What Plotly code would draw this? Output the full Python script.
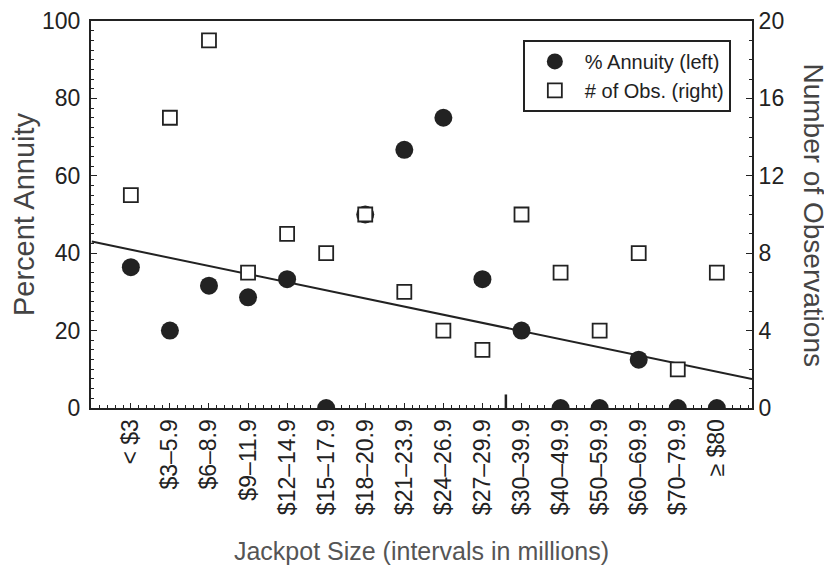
import plotly.graph_objects as go

categories = ["< $3", "$3–5.9", "$6–8.9", "$9–11.9", "$12–14.9", "$15–17.9",
              "$18–20.9", "$21–23.9", "$24–26.9", "$27–29.9", "$30–39.9",
              "$40–49.9", "$50–59.9", "$60–69.9", "$70–79.9", "≥ $80"]
pct_annuity = [36.4, 20.0, 31.6, 28.6, 33.3, 0.0, 50.0, 66.7, 75.0, 33.3,
               20.0, 0.0, 0.0, 12.5, 0.0, 0.0]
num_obs = [11, 15, 19, 7, 9, 8, 10, 6, 4, 3, 10, 7, 4, 8, 2, 7]
# fitted trend line (value at each end of x range)
trend_x = [-1.0, 15.9]
trend_y = [43.0, 7.5]
break_pos = 9.6

idx = list(range(len(categories)))
ink = "#222222"
font = "Liberation Sans, Arial, sans-serif"

fig = go.Figure()
fig.add_trace(go.Scatter(x=trend_x, y=trend_y, mode="lines",
                         line=dict(color=ink, width=2), showlegend=False,
                         hoverinfo="skip"))
fig.add_trace(go.Scatter(x=idx, y=pct_annuity, mode="markers",
                         name="% Annuity (left)",
                         marker=dict(symbol="circle", size=18, color=ink,
                                     line=dict(width=0)),
                         cliponaxis=True))
fig.add_trace(go.Scatter(x=idx, y=num_obs, mode="markers", yaxis="y2",
                         name="# of Obs. (right)",
                         marker=dict(symbol="square", size=14, color="white",
                                     line=dict(color=ink, width=1.8)),
                         cliponaxis=True))

fig.update_layout(
    width=832, height=567,
    margin=dict(l=83, r=88, t=13, b=167),
    paper_bgcolor="white", plot_bgcolor="white",
    font=dict(family=font, color=ink, size=20),
    xaxis=dict(range=[-1.02, 15.9], tickvals=idx, ticktext=categories,
               tickangle=-90, tickfont=dict(size=23, color=ink),
               automargin=False,
               showgrid=False, zeroline=False, showline=True, mirror=True,
               linecolor=ink, linewidth=2, ticks="inside", ticklen=5,
               tickcolor=ink,
               minor=dict(dtick=0.2, ticks="inside", ticklen=3,
                          tickcolor=ink, showgrid=False),
               title=dict(text="Jackpot Size (intervals in millions)",
                          font=dict(size=25, color="#555555"), standoff=28)),
    yaxis=dict(range=[0, 100], tickvals=[0, 20, 40, 60, 80, 100],
               automargin=False, ticklabelstandoff=4,
               showgrid=False, zeroline=False, showline=True,
               linecolor=ink, linewidth=2, ticks="inside", ticklen=6,
               tickcolor=ink, tickfont=dict(size=23, color=ink),
               minor=dict(dtick=2.5, ticks="inside", ticklen=3,
                          tickcolor=ink, showgrid=False),
               title=dict(text="Percent Annuity",
                          font=dict(size=29, color="#444444"), standoff=4)),
    yaxis2=dict(range=[0, 20], tickvals=[0, 4, 8, 12, 16, 20],
                automargin=False,
                overlaying="y", side="right", showgrid=False,
                zeroline=False, showline=True, linecolor=ink, linewidth=2,
                ticks="inside", ticklen=6, tickcolor=ink,
                tickfont=dict(size=23, color=ink),
                minor=dict(dtick=1, ticks="inside", ticklen=3,
                           tickcolor=ink, showgrid=False)),
    legend=dict(x=0.968, y=0.951, xanchor="right", yanchor="top",
                bgcolor="white", bordercolor=ink, borderwidth=2,
                font=dict(size=20, color=ink), tracegroupgap=0,
                itemsizing="trace", itemwidth=50),
    annotations=[dict(text="Number of Observations", textangle=90,
                      xref="paper", yref="paper", x=1.0, xshift=61, y=0.5,
                      xanchor="center", yanchor="middle", showarrow=False,
                      font=dict(size=28, color="#444444"))],
    shapes=[dict(type="line", xref="x", yref="y", x0=break_pos, x1=break_pos,
                 y0=-1.5, y1=3.5, layer="above",
                 line=dict(color=ink, width=2.5))],
)

fig.write_html("out.html")
